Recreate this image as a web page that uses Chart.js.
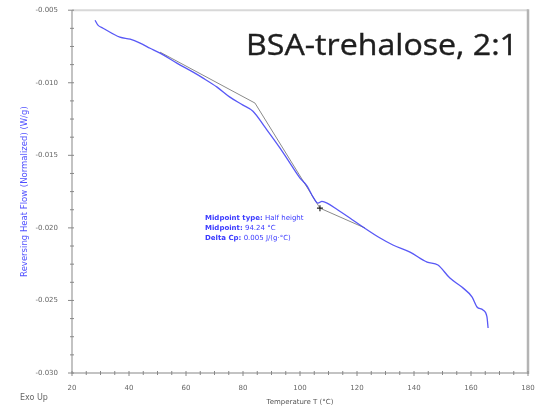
<!DOCTYPE html>
<html>
<head>
<meta charset="utf-8">
<script src="https://cdn.jsdelivr.net/npm/chart.js@4.4.0/dist/chart.umd.min.js"></script>
<style>
html,body{margin:0;padding:0;background:#fff;}
#wrap{width:547px;height:410px;position:relative;}
</style>
</head>
<body>
<div id="wrap"><canvas id="c" width="547" height="410"></canvas></div>
<script>
// Reversing heat flow curve (blue): temperature (°C) and value (W/g)
const tempBlue = [28.1, 29.1, 30.9, 36.8, 40.4, 43.9, 47.4, 50.9, 56.8, 62.5, 66.0, 70.9, 75.4, 80.0, 83.5, 87.7, 93.0, 95.8, 100.0, 102.5, 104.6, 106.3, 107.7, 109.5, 113.3, 117.5, 122.1, 128.1, 132.6, 138.6, 144.6, 148.4, 152.6, 156.8, 160.4, 162.1, 164.2, 165.6, 166.0];
const heatBlue = [-0.00569, -0.00603, -0.00624, -0.00686, -0.00700, -0.00727, -0.00762, -0.00796, -0.00865, -0.00927, -0.00968, -0.01030, -0.01099, -0.01154, -0.01196, -0.01306, -0.01450, -0.01533, -0.01657, -0.01712, -0.01788, -0.01829, -0.01818, -0.01829, -0.01877, -0.01932, -0.01994, -0.02070, -0.02118, -0.02167, -0.02236, -0.02256, -0.02346, -0.02408, -0.02477, -0.02545, -0.02566, -0.02614, -0.02690];
// Glass transition tangent construction (gray)
const tempFit = [50.9, 84.2, 107.0, 122.8];
const heatFit = [-0.00789, -0.01140, -0.01864, -0.02001];
// Cursor marker at the lower tangent junction
const markerT = [107.0];
const markerV = [-0.01864];
// Axes
const xMin = 20, xMax = 180, xMajor = 20, xMinor = 5;
const yMin = -0.030, yMax = -0.005, yMajor = 0.005, yMinor = 0.00125;
const titleText = 'BSA-trehalose, 2:1';
const yTitle = 'Reversing Heat Flow (Normalized) (W/g)';
const xTitle = 'Temperature T (°C)';
const exoText = 'Exo Up';
const annotLines = [['Midpoint type:', ' Half height'], ['Midpoint:', ' 94.24 °C'], ['Delta Cp:', ' 0.005 J/(g·°C)']];

const toPts = (xs, ys) => xs.map((x, i) => ({x: x, y: ys[i]}));

const framePlugin = {
  id: 'frame',
  afterDraw(chart) {
    const {ctx, chartArea: a, scales} = chart;
    const xs = scales.x, ys = scales.y;
    ctx.save();
    // top border
    ctx.strokeStyle = '#d8d8d8'; ctx.lineWidth = 2;
    ctx.beginPath(); ctx.moveTo(a.left, a.top); ctx.lineTo(a.right, a.top); ctx.stroke();
    // right border
    ctx.strokeStyle = '#b4b4b4'; ctx.lineWidth = 2.5;
    ctx.beginPath(); ctx.moveTo(a.right, a.top - 1); ctx.lineTo(a.right, a.bottom + 1); ctx.stroke();
    // left and bottom axis
    ctx.strokeStyle = '#b0b0b0'; ctx.lineWidth = 1.5;
    ctx.beginPath(); ctx.moveTo(a.left, a.top); ctx.lineTo(a.left, a.bottom); ctx.lineTo(a.right, a.bottom); ctx.stroke();
    // ticks
    ctx.strokeStyle = '#888'; ctx.lineWidth = 1;
    for (let v = xMin; v <= xMax + 1e-9; v += xMinor) {
      const px = xs.getPixelForValue(v);
      const major = Math.abs(v / xMajor - Math.round(v / xMajor)) < 1e-6;
      ctx.beginPath(); ctx.moveTo(px, a.bottom - 2); ctx.lineTo(px, a.bottom + (major ? 3 : 2)); ctx.stroke();
    }
    for (let v = yMin; v <= yMax + 1e-9; v += yMinor) {
      const py = ys.getPixelForValue(v);
      const major = Math.abs(v / yMajor - Math.round(v / yMajor)) < 1e-6;
      ctx.beginPath(); ctx.moveTo(a.left - (major ? 4 : 2), py); ctx.lineTo(a.left + 2, py); ctx.stroke();
    }
    // big title, fitted to the reference width
    ctx.fillStyle = '#1e1e1e';
    ctx.font = '30px "Open Sans", sans-serif';
    ctx.textBaseline = 'alphabetic'; ctx.textAlign = 'left';
    const tw = ctx.measureText(titleText).width;
    const sx = 272 / tw;
    ctx.save();
    ctx.translate(246, 55);
    ctx.scale(sx, 1);
    ctx.fillText(titleText, 0, 0);
    ctx.strokeStyle = '#1e1e1e'; ctx.lineWidth = 0.4;
    ctx.strokeText(titleText, 0, 0);
    ctx.restore();
    // annotation
    ctx.textAlign = 'left';
    let y = 220;
    annotLines.forEach(([b, n]) => {
      ctx.font = 'bold 7px "DejaVu Sans", sans-serif';
      ctx.fillStyle = '#3a3aff';
      ctx.fillText(b, 205, y);
      const w = ctx.measureText(b).width;
      ctx.font = '7px "DejaVu Sans", sans-serif';
      ctx.fillText(n, 205 + w, y);
      y += 10;
    });
    // Exo Up
    ctx.fillStyle = '#666';
    ctx.font = '8px "DejaVu Sans", sans-serif';
    ctx.fillText(exoText, 20, 400);
    ctx.restore();
  }
};

new Chart(document.getElementById('c'), {
  type: 'scatter',
  data: {
    datasets: [
      {data: toPts(tempFit, heatFit), showLine: true, borderColor: '#8a8a8a', borderWidth: 1, pointRadius: 0, tension: 0, order: 2},
      {data: toPts(tempBlue, heatBlue), showLine: true, borderColor: 'rgba(70,70,245,0.9)', borderWidth: 1.3, pointRadius: 0, cubicInterpolationMode: 'monotone', order: 1},
      {data: toPts(markerT, markerV), pointStyle: 'cross', pointRadius: 3, borderColor: '#222', borderWidth: 1.2, order: 0}
    ]
  },
  options: {
    responsive: false, animation: false,
    layout: {padding: {top: 10, right: 19, left: 0, bottom: 0}},
    plugins: {legend: {display: false}, tooltip: {enabled: false}},
    scales: {
      x: {
        type: 'linear', min: xMin, max: xMax,
        grid: {display: false}, border: {display: false},
        ticks: {stepSize: xMajor, color: '#666', font: {size: 7, family: 'DejaVu Sans'}, padding: 3, maxRotation: 0},
        title: {display: true, text: xTitle, color: '#555', font: {size: 7, family: 'DejaVu Sans'}, padding: {top: 4}},
        afterFit(s) { s.height = 37; }
      },
      y: {
        type: 'linear', min: yMin, max: yMax,
        grid: {display: false}, border: {display: false},
        ticks: {stepSize: yMajor, color: '#666', font: {size: 7, family: 'DejaVu Sans'}, padding: 6, callback: v => v.toFixed(3)},
        title: {display: true, text: yTitle, color: '#5050ff', font: {size: 8.5, family: 'DejaVu Sans'}, padding: {top: 20, bottom: 0}},
        afterFit(s) { s.width = 72; }
      }
    }
  },
  plugins: [framePlugin]
});
</script>
</body>
</html>
